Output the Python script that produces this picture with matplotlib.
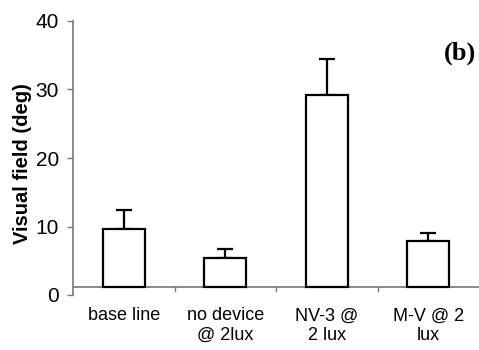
import matplotlib
matplotlib.use("Agg")
import matplotlib.pyplot as plt
import numpy as np

categories = ["base line", "no device\n@ 2lux", "NV-3 @\n2 lux", "M-V @ 2\nlux"]
values = [9.6, 5.35, 29.2, 7.9]
errors = [2.8, 1.3, 5.25, 1.1]
yticks = [0, 10, 20, 30, 40]
axis_cross = 1.1

plt.rcParams['font.family'] = ['Liberation Sans', 'DejaVu Sans']
fig = plt.figure(figsize=(4.79, 3.5), dpi=100)
ax = fig.add_axes([73/479, 1-295/350, 1-73/479, (295-21)/350])

x = np.arange(len(categories))
vals = np.array(values)
ax.bar(x, vals - axis_cross, bottom=axis_cross, width=0.41, color='white',
       edgecolor='black', linewidth=1.6, zorder=3)
ax.errorbar(x, vals, yerr=[np.zeros_like(vals), np.array(errors)], fmt='none',
            ecolor='black', elinewidth=1.6, capsize=6, capthick=1.6, zorder=2)

ax.set_xlim(-0.5, len(categories) - 0.5)
ax.set_ylim(0, 40)
ax.set_yticks(yticks)
ax.set_yticklabels([str(t) for t in yticks], fontsize=15)
ax.tick_params(axis='y', direction='out', length=4, width=1, color='#777777', pad=6)
ax.axhline(axis_cross, color='#777777', linewidth=1.2, zorder=1)
for b in np.arange(0.5, len(categories) - 0.5, 1):
    ax.plot([b, b], [axis_cross, axis_cross - 0.45], color='#777777', linewidth=1, clip_on=False)
ax.set_xticks(x)
ax.set_xticklabels(categories, fontsize=13, linespacing=1.2)
ax.tick_params(axis='x', length=0, pad=9)

for s in ['top', 'right', 'bottom']:
    ax.spines[s].set_visible(False)
ax.spines['left'].set_color('#777777')
ax.spines['left'].set_linewidth(1.2)

ax.set_ylabel("Visual field (deg)", fontsize=14.5, fontweight='bold')
ax.yaxis.set_label_coords(-(73 - 32) / 406, (295 - 164) / 274)
fig.text(460/479, 1-53/350, "(b)", fontsize=19, fontweight='bold',
         family=['Liberation Serif'], ha='center', va='center')

fig.savefig("out.png", dpi=100)
